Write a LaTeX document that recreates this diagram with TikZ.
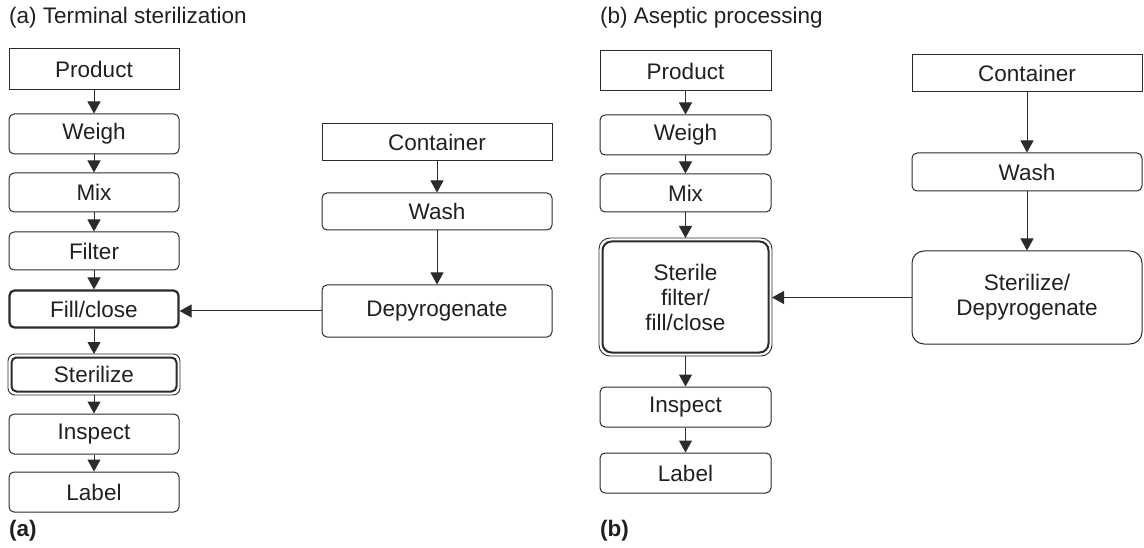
\documentclass[tikz,border=0pt]{standalone}
\usepackage{fontspec}
\setmainfont{Liberation Sans}
\usetikzlibrary{arrows.meta,calc}
\definecolor{ink}{HTML}{231F20}
\definecolor{edge}{HTML}{2B2B2B}
\begin{document}
\begin{tikzpicture}[x=1pt,y=-1pt,
  every node/.style={font=\fontsize{22.5}{25}\selectfont, text=ink, inner sep=0pt},
  sq/.style={draw=edge, line width=1pt, minimum width=170pt, anchor=center},
  rd/.style={sq, rounded corners=5pt},
  thk/.style={rd, line width=2.2pt},
  inner/.style={draw=edge, line width=2pt, rounded corners=5pt, anchor=center},
  outer/.style={draw=edge, line width=0.9pt},
  arr/.style={draw=edge, line width=1pt, -{Triangle[length=12pt,width=13pt]}},
  lbl/.style={anchor=west, font=\fontsize{22.5}{25}\selectfont}]
\useasboundingbox (0,0) rectangle (1144,548);

% Titles
\node[lbl] (ta) at (9,18) {(a) Terminal sterilization};
\node[lbl] (tb) at (600,18) {(b) Aseptic processing};
\node[lbl, font=\fontsize{22.5}{25}\selectfont\bfseries] (pa) at (9,531) {(a)};
\node[lbl, font=\fontsize{22.5}{25}\selectfont\bfseries] (pb) at (600,531) {(b)};

% (a) main column
\node[sq, minimum height=41pt] (aprod) at (94,69.5) {Product};
\node[rd, minimum height=40pt] (aweigh) at (94,134) {Weigh};
\node[rd, minimum height=39pt] (amix) at (94,192.5) {Mix};
\node[rd, minimum height=38pt] (afilt) at (94,251) {Filter};
\node[thk, minimum width=169pt, minimum height=37pt] (afill) at (94,309) {Fill/close};
\node[inner, minimum width=165pt, minimum height=34pt] (aster) at (94,374.5) {Sterilize};
\draw[outer, rounded corners=7pt] ($(aster.north west)+(-2.5,-2.5)$) rectangle ($(aster.south east)+(2.5,2.5)$);
\node[rd, minimum height=40pt] (ainsp) at (94,434) {Inspect};
\node[rd, minimum height=40pt] (alab) at (94,492) {Label};

% (a) container column
\node[sq, minimum width=230pt, minimum height=37pt] (acont) at (437,142.5) {Container};
\node[rd, minimum width=230pt, minimum height=37pt] (awash) at (437,211.5) {Wash};
\node[rd, minimum width=230pt, minimum height=52pt] (adep) at (437,311) {Depyrogenate};

\draw[arr] (aprod) -- (aweigh);
\draw[arr] (aweigh) -- (amix);
\draw[arr] (amix) -- (afilt);
\draw[arr] (afilt) -- (afill);
\draw[arr] (afill) -- ($(aster.north)+(0,-2.5)$);
\draw[arr] ($(aster.south)+(0,2.5)$) -- (ainsp);
\draw[arr] (ainsp) -- (alab);
\draw[arr] (acont) -- (awash);
\draw[arr] (awash) -- (adep);
\draw[arr] (adep.west) -- (adep.west -| afill.east);

% (b) main column
\node[sq, minimum width=171pt, minimum height=40pt] (bprod) at (685.5,71) {Product};
\node[rd, minimum width=171pt, minimum height=40pt] (bweigh) at (685.5,135) {Weigh};
\node[rd, minimum width=171pt, minimum height=38pt] (bmix) at (685.5,193) {Mix};
\node[inner, rounded corners=9pt, minimum width=166pt, minimum height=111pt, align=center] (bster) at (685.5,297) {Sterile\\filter/\\fill/close};
\draw[outer, rounded corners=11pt] ($(bster.north west)+(-2.5,-2.5)$) rectangle ($(bster.south east)+(2.5,2.5)$);
\node[rd, minimum width=171pt, minimum height=40pt] (binsp) at (685.5,407) {Inspect};
\node[rd, minimum width=171pt, minimum height=40pt] (blab) at (685.5,473) {Label};

% (b) container column
\node[sq, minimum width=230pt, minimum height=37pt] (bcont) at (1027,73.5) {Container};
\node[rd, minimum width=230pt, minimum height=38pt] (bwash) at (1027,172) {Wash};
\node[rd, rounded corners=12pt, minimum width=230pt, minimum height=93pt, align=center] (bdep) at (1027,297.5) {Sterilize/\\Depyrogenate};

\draw[arr] (bprod) -- (bweigh);
\draw[arr] (bweigh) -- (bmix);
\draw[arr] (bmix) -- ($(bster.north)+(0,-2.5)$);
\draw[arr] ($(bster.south)+(0,2.5)$) -- (binsp);
\draw[arr] (binsp) -- (blab);
\draw[arr] (bcont) -- (bwash);
\draw[arr] (bwash) -- (bdep);
\draw[arr] (bdep.west) -- ($(bdep.west -| bster.east)+(2.5,0)$);
\end{tikzpicture}
\end{document}
